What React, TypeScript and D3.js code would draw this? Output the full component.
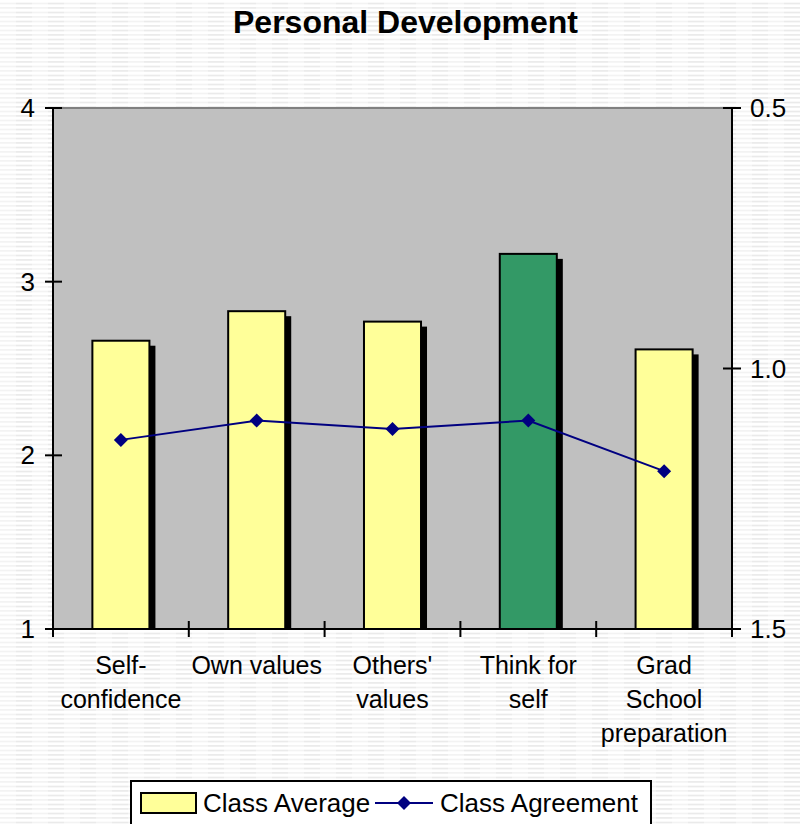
import React from "react";
import * as d3 from "d3";

const categories: string[][] = [
  ["Self-", "confidence"],
  ["Own values"],
  ["Others'", "values"],
  ["Think for", "self"],
  ["Grad", "School", "preparation"],
];
const classAverage = [2.66, 2.83, 2.77, 3.16, 2.61];
const classAgreement = [1.137, 1.1, 1.116, 1.1, 1.197];
const barColors = ["#FFFF99", "#FFFF99", "#FFFF99", "#339966", "#FFFF99"];
const leftTicks = [1, 2, 3, 4];
const rightTicks = [0.5, 1.0, 1.5];
const title = "Personal Development";
const legendLabels = ["Class Average", "Class Agreement"];

const W = 800;
const H = 824;
const plot = { left: 53, right: 732, top: 108, bottom: 629 };
const FONT = "Arial, 'Liberation Sans', sans-serif";

export default function App() {
  const x = d3
    .scaleBand<number>()
    .domain(d3.range(categories.length))
    .range([plot.left, plot.right])
    .paddingInner(0.58)
    .paddingOuter(0.29);
  const xb = d3
    .scaleBand<number>()
    .domain(d3.range(categories.length))
    .range([plot.left, plot.right]);
  const yL = d3.scaleLinear().domain([1, 4]).range([plot.bottom, plot.top]);
  const yR = d3.scaleLinear().domain([0.5, 1.5]).range([plot.top, plot.bottom]);
  const line = d3
    .line<number>()
    .x((_, i) => xb(i)! + xb.bandwidth() / 2)
    .y((d) => yR(d));
  const diamond = (cx: number, cy: number, r: number) =>
    `M${cx},${cy - r}L${cx + r},${cy}L${cx},${cy + r}L${cx - r},${cy}Z`;
  const bw = x.bandwidth();

  return (
    <svg
      width={W}
      height={H}
      style={{ position: "absolute", left: 0, top: 0, display: "block" }}
      fontFamily={FONT}
    >
      <defs>
        <pattern id="stripes" width={32} height={4.5} patternUnits="userSpaceOnUse">
          <rect width={32} height={4.5} fill="#ffffff" />
          <rect x={0} y={3} width={16} height={1} fill="#ebebeb" />
          <rect x={16} y={3} width={16} height={1} fill="#dcdcdc" />
        </pattern>
      </defs>
      <rect width={W} height={H} fill="url(#stripes)" />
      <text
        x={405.5}
        y={33}
        textAnchor="middle"
        fontSize={32}
        fontWeight="bold"
        fill="#000"
      >
        {title}
      </text>
      {/* plot area */}
      <rect
        x={plot.left}
        y={plot.top}
        width={plot.right - plot.left}
        height={plot.bottom - plot.top}
        fill="#C0C0C0"
      />
      <line x1={plot.left} x2={plot.right} y1={plot.top} y2={plot.top} stroke="#808080" strokeWidth={2} />
      {/* bars */}
      {classAverage.map((v, i) => (
        <g key={i}>
          <rect
            x={x(i)! + 6}
            y={yL(v) + 5}
            width={bw}
            height={plot.bottom - yL(v) - 5}
            fill="#000"
          />
          <rect
            x={x(i)!}
            y={yL(v)}
            width={bw}
            height={plot.bottom - yL(v)}
            fill={barColors[i]}
            stroke="#000"
            strokeWidth={2}
          />
        </g>
      ))}
      {/* line */}
      <path d={line(classAgreement)!} fill="none" stroke="#000080" strokeWidth={2} />
      {classAgreement.map((v, i) => (
        <path key={i} d={diamond(xb(i)! + xb.bandwidth() / 2, yR(v), 7)} fill="#000080" />
      ))}
      {/* axes */}
      <line x1={plot.left} x2={plot.left} y1={plot.top} y2={plot.bottom} stroke="#000" strokeWidth={2} />
      <line x1={plot.right} x2={plot.right} y1={plot.top} y2={plot.bottom + 8} stroke="#000" strokeWidth={2} />
      <line x1={plot.left} x2={plot.right} y1={plot.bottom} y2={plot.bottom} stroke="#000" strokeWidth={2} />
      {leftTicks.map((t) => (
        <g key={t}>
          <line x1={plot.left - 8} x2={plot.left + 9} y1={yL(t)} y2={yL(t)} stroke="#000" strokeWidth={2} />
          <text x={35} y={yL(t) + 9} textAnchor="end" fontSize={26} fill="#000">
            {t}
          </text>
        </g>
      ))}
      {rightTicks.map((t) => (
        <g key={t}>
          <line x1={plot.right - 9} x2={plot.right + 9} y1={yR(t)} y2={yR(t)} stroke="#000" strokeWidth={2} />
          <text x={750} y={yR(t) + 9} textAnchor="start" fontSize={26} fill="#000">
            {d3.format(".1f")(t)}
          </text>
        </g>
      ))}
      {d3.range(categories.length + 1).map((i) => {
        const xx = i < categories.length ? xb(i)! : plot.right;
        return (
          <line key={i} x1={xx} x2={xx} y1={plot.bottom - 8} y2={plot.bottom + 8} stroke="#000" strokeWidth={2} />
        );
      })}
      {categories.map((lines, i) => (
        <text key={i} textAnchor="middle" fontSize={25} fill="#000">
          {lines.map((l, j) => (
            <tspan key={j} x={xb(i)! + xb.bandwidth() / 2} y={674 + j * 34}>
              {l}
            </tspan>
          ))}
        </text>
      ))}
      {/* legend */}
      <rect x={131} y={781} width={520} height={60} fill="#fff" stroke="#000" strokeWidth={2} />
      <rect x={141} y={793} width={55} height={20} fill="#FFFF99" stroke="#000" strokeWidth={2} />
      <text x={203} y={812} fontSize={26} fill="#000">
        {legendLabels[0]}
      </text>
      <line x1={375} x2={433} y1={803} y2={803} stroke="#000080" strokeWidth={2} />
      <path d={diamond(404, 803, 7)} fill="#000080" />
      <text x={440} y={812} fontSize={26} fill="#000">
        {legendLabels[1]}
      </text>
    </svg>
  );
}
